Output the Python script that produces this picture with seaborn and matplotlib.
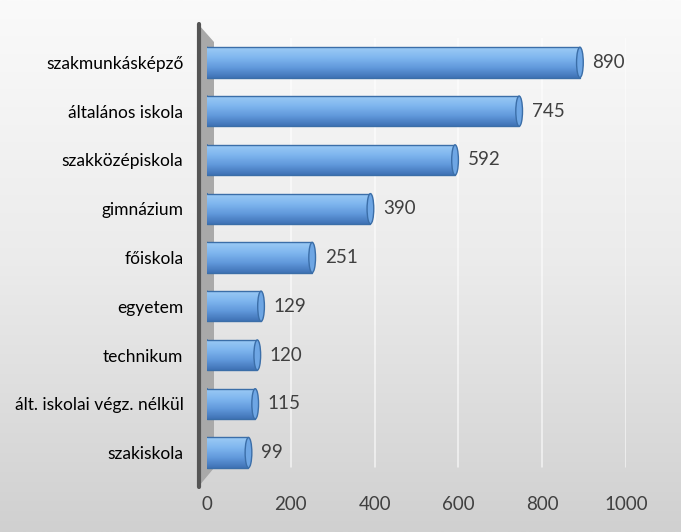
import numpy as np
import pandas as pd
import matplotlib
matplotlib.use("Agg")
import matplotlib.pyplot as plt
import seaborn as sns
from matplotlib.patches import Polygon, Ellipse
from matplotlib.colors import LinearSegmentedColormap

categories = ["szakmunkásképző", "általános iskola", "szakközépiskola", "gimnázium",
              "főiskola", "egyetem", "technikum", "ált. iskolai végz. nélkül", "szakiskola"]
values = [890, 745, 592, 390, 251, 129, 120, 115, 99]
xticks = [0, 200, 400, 600, 800, 1000]

sns.set_theme(style="white")
plt.rcParams['font.family'] = ['Lato', 'DejaVu Sans']

W, H = 681, 532
fig = plt.figure(figsize=(W / 100, H / 100), dpi=100)

# background gradient
bg = fig.add_axes([0, 0, 1, 1], zorder=-10)
grad = np.linspace(0, 1, 256).reshape(-1, 1)
bgcmap = LinearSegmentedColormap.from_list("bg", ["#FAFAFA", "#EBEBEB", "#D0D0D0"])
bg.imshow(grad, aspect="auto", cmap=bgcmap, extent=[0, 1, 0, 1], origin="upper")
bg.set_axis_off()

def px(x, y):
    return (x / W, 1 - y / H)

# side wall (3D look)
wall = Polygon([px(199, 25), px(214, 42), px(214, 468), px(199, 486)], closed=True,
               transform=fig.transFigure, facecolor="#A9A9A9", edgecolor="none", zorder=-5)
fig.patches.append(wall)
fig.add_artist(plt.Line2D([199 / W, 199 / W], [1 - 24 / H, 1 - 487 / H], transform=fig.transFigure,
                          color="#555555", lw=3, zorder=-4))

ax = fig.add_axes([207 / W, 1 - 477 / H, 419 / W, 439 / H])
ax.patch.set_alpha(0)
df = pd.DataFrame({"cat": categories, "val": values})
sns.barplot(data=df, x="val", y="cat", orient="h", ax=ax, color="#6AA3E3",
            edgecolor="#3B6EA8", linewidth=1.0, width=0.62, saturation=1)

ax.set_xlim(0, 1000)
ax.set_xticks(xticks)
ax.set_xticklabels([str(t) for t in xticks], fontsize=13.5, color="#404040")
ax.tick_params(axis="x", length=0, pad=14)
ax.tick_params(axis="y", length=0, pad=17)
for lab in ax.get_yticklabels():
    lab.set_fontsize(12.5)
    lab.set_color("#000000")
ax.set_xlabel("")
ax.set_ylabel("")
for s in ax.spines.values():
    s.set_visible(False)

# gridlines (back wall)
for t in xticks[1:]:
    ax.plot([t, t], [-0.6, 8.3], color="white", lw=1.1, alpha=0.7, zorder=0)

# cylinder shading
cyl = LinearSegmentedColormap.from_list("cyl", ["#9CCBF5", "#80B7EF", "#6199DC", "#3F72B5"])
gv = np.linspace(0, 1, 64).reshape(-1, 1)
for p, v in zip(ax.patches, values):
    x0, y0 = p.get_x(), p.get_y()
    w, h = p.get_width(), p.get_height()
    lcap = Ellipse((x0, y0 + h / 2), width=8, height=h, facecolor="#6AA3E3",
                   edgecolor="#3B6EA8", lw=1.0, zorder=1.5)
    ax.add_patch(lcap)
    im = ax.imshow(gv, aspect="auto", cmap=cyl, extent=[x0, x0 + w, y0 + h, y0],
                   origin="upper", zorder=2)
    im.set_clip_path(p)
    p.set_zorder(3)
    p.set_facecolor("none")
    p.set_edgecolor("none")
    ax.plot([x0, x0 + w], [y0, y0], color="#3B6EA8", lw=1.0, zorder=3)
    ax.plot([x0, x0 + w], [y0 + h, y0 + h], color="#3B6EA8", lw=1.0, zorder=3)
    cap = Ellipse((x0 + w, y0 + h / 2), width=16, height=h, facecolor="#6EA6E4",
                  edgecolor="#3B6EA8", lw=1.0, zorder=4)
    ax.add_patch(cap)
    ax.text(x0 + w + 30, y0 + h / 2, str(v), va="center", ha="left",
            fontsize=13.5, color="#404040")

ax.set_ylim(len(categories) - 0.5, -0.5)
ax.set_xlim(0, 1000)
fig.savefig("out.png", dpi=100)
